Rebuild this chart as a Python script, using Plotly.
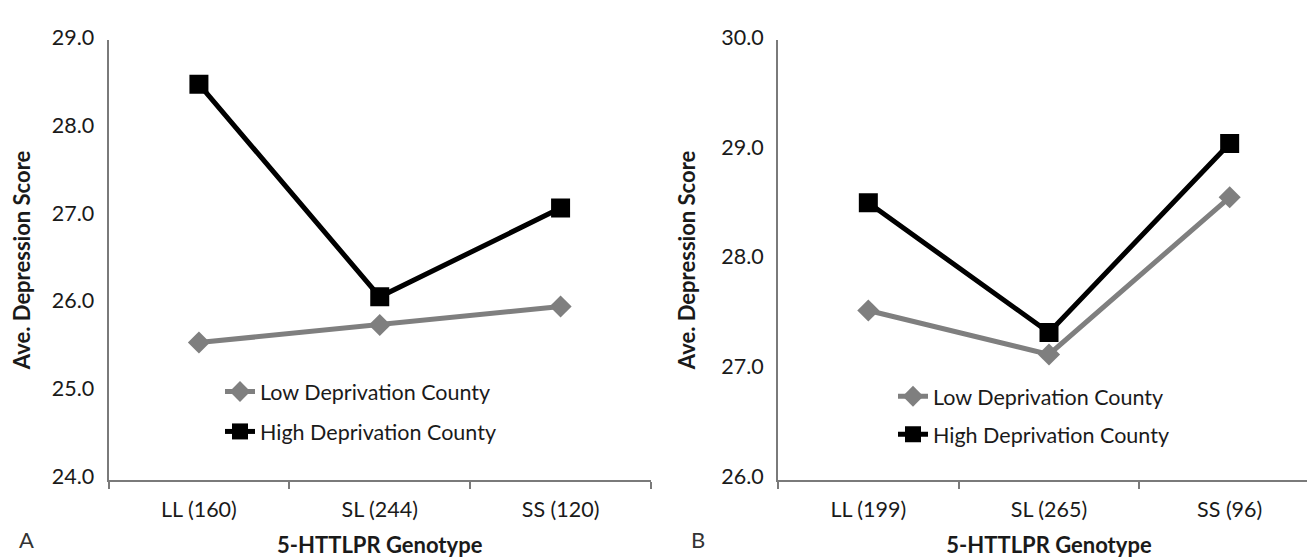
import plotly.graph_objects as go

# ---- data ----
cats_a = ["LL (160)", "SL (244)", "SS (120)"]
cats_b = ["LL (199)", "SL (265)", "SS (96)"]
low_a = [25.56, 25.76, 25.97]
high_a = [28.50, 26.08, 27.09]
low_b = [27.54, 27.14, 28.57]
high_b = [28.52, 27.34, 29.06]
series_names = ["Low Deprivation County", "High Deprivation County"]
yticks_a = [24, 25, 26, 27, 28, 29]
yticks_b = [26, 27, 28, 29, 30]
x_title = "5-HTTLPR Genotype"
y_title = "Ave. Depression Score"
panel_letters = ["A", "B"]

FONT = "Lato, 'Open Sans', sans-serif"
GRAY = "#7f7f7f"
BLACK = "#000000"
AXIS = "#7a7a7a"
TXT = "#1a1a1a"

fig = go.Figure()


def add_panel(cats, low, high, xa, ya, leg):
    fig.add_trace(go.Scatter(
        x=cats, y=low, name=series_names[0], mode="lines+markers",
        line=dict(color=GRAY, width=5), marker=dict(symbol="diamond", size=17, color=GRAY),
        xaxis=xa, yaxis=ya, legend=leg, legendgroup=leg + "low"))
    fig.add_trace(go.Scatter(
        x=cats, y=high, name=series_names[1], mode="lines+markers",
        line=dict(color=BLACK, width=5), marker=dict(symbol="square", size=19, color=BLACK),
        xaxis=xa, yaxis=ya, legend=leg, legendgroup=leg + "high"))


add_panel(cats_a, low_a, high_a, "x", "y", "legend")
add_panel(cats_b, low_b, high_b, "x2", "y2", "legend2")

W, H = 1315, 557
ydom = [(H - 478) / H, (H - 17) / H]

xcommon = dict(type="category", range=[-0.5, 2.5], showline=True, linecolor=AXIS, linewidth=2,
               ticks="outside", tickson="boundaries", ticklen=7, tickwidth=2, tickcolor=AXIS,
               showgrid=False, zeroline=False, ticklabelstandoff=10,
               tickfont=dict(family=FONT, size=21.5, color=TXT),
               title=dict(text="<b>" + x_title + "</b>", font=dict(family=FONT, size=22, color=TXT),
                          standoff=16))
ycommon = dict(showline=True, linecolor=AXIS, linewidth=2, ticks="", showgrid=False, zeroline=False,
               tickformat=".1f", ticklabelstandoff=8, ticklabelshift=-3,
               tickfont=dict(family=FONT, size=21.5, color=TXT),
               title=dict(text="<b>" + y_title + "</b>", font=dict(family=FONT, size=22, color=TXT),
                          standoff=20))

fig.update_layout(
    width=W, height=H, margin=dict(l=0, r=0, t=0, b=0),
    paper_bgcolor="white", plot_bgcolor="white",
    xaxis=dict(domain=[100.5 / W, 643 / W], anchor="y", **xcommon),
    yaxis=dict(domain=ydom, anchor="x", range=[24, 29], tickvals=yticks_a, **ycommon),
    xaxis2=dict(domain=[770 / W, 1312 / W], anchor="y2", **xcommon),
    yaxis2=dict(domain=ydom, anchor="x2", range=[26, 30], tickvals=yticks_b, **ycommon),
    legend=dict(x=212 / W, y=(H - 364) / H, xanchor="left", yanchor="top",
                font=dict(family=FONT, size=21.5, color=TXT), bgcolor="rgba(0,0,0,0)",
                tracegroupgap=9, itemwidth=30),
    legend2=dict(x=885 / W, y=(H - 369) / H, xanchor="left", yanchor="top",
                 font=dict(family=FONT, size=21.5, color=TXT), bgcolor="rgba(0,0,0,0)",
                 tracegroupgap=7, itemwidth=30),
    showlegend=True,
    annotations=[
        dict(text=panel_letters[0], x=18 / W, y=(H - 541) / H, xref="paper", yref="paper",
             xanchor="center", yanchor="middle",
             showarrow=False, font=dict(family=FONT, size=22, color="#333")),
        dict(text=panel_letters[1], x=690 / W, y=(H - 541) / H, xref="paper", yref="paper",
             xanchor="center", yanchor="middle",
             showarrow=False, font=dict(family=FONT, size=22, color="#333")),
    ],
)

fig.write_html("out.html")
